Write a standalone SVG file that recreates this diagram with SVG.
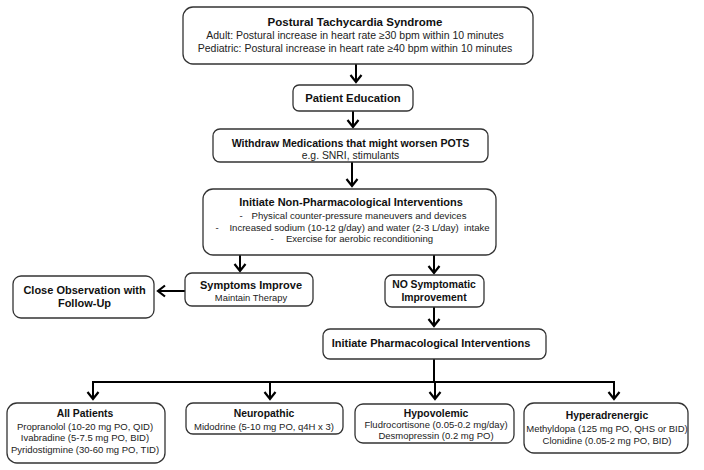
<svg xmlns="http://www.w3.org/2000/svg" width="704" height="470" viewBox="0 0 704 470">
<defs>
<marker id="ah" viewBox="-10 -8 12 16" markerWidth="12" markerHeight="16" refX="0" refY="0" orient="auto" markerUnits="userSpaceOnUse">
<path d="M-7,-5.5 L0,0 L-7,5.5" fill="none" stroke="#000" stroke-width="2.2" stroke-linejoin="miter"/>
</marker>
</defs>
<style>
.box{fill:#fff;stroke:#333;stroke-width:1.3}
.t{font-family:"Liberation Sans",Arial,sans-serif;font-size:11px;font-weight:bold;fill:#111;text-anchor:middle}
.n{font-family:"Liberation Sans",Arial,sans-serif;font-size:10px;fill:#222;text-anchor:middle}
.s{font-size:9.5px}
.bt{font-size:10.4px}
.c{fill:none;stroke:#000;stroke-width:2}
</style>
<rect width="704" height="470" fill="#fff"/>
<g id="connectors">
<line class="c" x1="356" y1="64" x2="356" y2="82" marker-end="url(#ah)"/>
<line class="c" x1="353" y1="111" x2="353" y2="127" marker-end="url(#ah)"/>
<line class="c" x1="352" y1="162" x2="352" y2="186" marker-end="url(#ah)"/>
<line class="c" x1="240" y1="255" x2="240" y2="271" marker-end="url(#ah)"/>
<line class="c" x1="434" y1="255" x2="434" y2="273" marker-end="url(#ah)"/>
<line class="c" x1="185" y1="291" x2="158" y2="291" marker-end="url(#ah)"/>
<line class="c" x1="434" y1="307" x2="434" y2="326" marker-end="url(#ah)"/>
<line class="c" x1="434" y1="359" x2="434" y2="382"/>
<line class="c" x1="93" y1="382" x2="614" y2="382"/>
<line class="c" x1="93" y1="381" x2="93" y2="399" marker-end="url(#ah)"/>
<line class="c" x1="270" y1="382" x2="270" y2="399" marker-end="url(#ah)"/>
<line class="c" x1="435" y1="382" x2="435" y2="399" marker-end="url(#ah)"/>
<line class="c" x1="614" y1="381" x2="614" y2="399" marker-end="url(#ah)"/>
</g>
<g id="pots">
<rect class="box" x="183" y="7" width="350" height="57" rx="10"/>
<text class="t" x="355" y="26" style="font-size:11.5px">Postural Tachycardia Syndrome</text>
<text class="n" x="355" y="39" style="font-size:10.5px">Adult: Postural increase in heart rate ≥30 bpm within 10 minutes</text>
<text class="n" x="355" y="52" style="font-size:10.5px">Pediatric: Postural increase in heart rate ≥40 bpm within 10 minutes</text>
</g>
<g id="education">
<rect class="box" x="293" y="85" width="120" height="26" rx="6"/>
<text class="t" x="353" y="102" style="font-size:11.3px">Patient Education</text>
</g>
<g id="withdraw">
<rect class="box" x="213" y="129" width="275" height="33" rx="7"/>
<text class="t" x="350.5" y="147" style="font-size:10.6px">Withdraw Medications that might worsen POTS</text>
<text class="n" x="350.5" y="158.5" style="font-size:10.4px">e.g. SNRI, stimulants</text>
</g>
<g id="nonpharm">
<rect class="box" x="203" y="189" width="293" height="66" rx="10"/>
<text class="t" x="351" y="206">Initiate Non-Pharmacological Interventions</text>
<text class="n" x="241" y="219" style="font-size:9.6px">-</text>
<text class="n" x="359" y="219" style="font-size:9.6px">Physical counter-pressure maneuvers and devices</text>
<text class="n" x="217" y="231" style="font-size:9.6px">-</text>
<text class="n" x="359.5" y="231" style="font-size:9.6px" xml:space="preserve">Increased sodium (10-12 g/day) and water (2-3 L/day)  intake</text>
<text class="n" x="272" y="242" style="font-size:9.6px">-</text>
<text class="n" x="359.5" y="242" style="font-size:9.6px">Exercise for aerobic reconditioning</text>
</g>
<g id="improve">
<rect class="box" x="185" y="273" width="128" height="33" rx="7"/>
<text class="t" x="251" y="289">Symptoms Improve</text>
<text class="n" x="251" y="301" style="font-size:9.4px">Maintain Therapy</text>
</g>
<g id="observation">
<rect class="box" x="13" y="276" width="141" height="42" rx="8"/>
<text class="t" x="84.5" y="294">Close Observation with</text>
<text class="t" x="84.5" y="307">Follow-Up</text>
</g>
<g id="noimprove">
<rect class="box" x="385" y="275" width="99" height="32" rx="7"/>
<text class="t" x="434" y="288" style="font-size:10.4px">NO Symptomatic</text>
<text class="t" x="434" y="301" style="font-size:10.4px">Improvement</text>
</g>
<g id="pharm">
<rect class="box" x="323" y="329" width="223" height="30" rx="7"/>
<text class="t" x="431" y="347">Initiate Pharmacological Interventions</text>
</g>
<g id="allpatients">
<rect class="box" x="7" y="403" width="158" height="60" rx="10"/>
<text class="t bt" x="85" y="417">All Patients</text>
<text class="n s" x="85" y="430">Propranolol (10-20 mg PO, QID)</text>
<text class="n s" x="85" y="441">Ivabradine (5-7.5 mg PO, BID)</text>
<text class="n s" x="85" y="453">Pyridostigmine (30-60 mg PO, TID)</text>
</g>
<g id="neuropathic">
<rect class="box" x="186" y="403" width="157" height="31" rx="7"/>
<text class="t bt" x="264" y="417">Neuropathic</text>
<text class="n s" x="264" y="430">Midodrine (5-10 mg PO, q4H x 3)</text>
</g>
<g id="hypovolemic">
<rect class="box" x="355" y="404" width="159" height="39" rx="8"/>
<text class="t bt" x="436" y="417">Hypovolemic</text>
<text class="n s" x="436" y="428">Fludrocortisone (0.05-0.2 mg/day)</text>
<text class="n s" x="436" y="439">Desmopressin (0.2 mg PO)</text>
</g>
<g id="hyperadrenergic">
<rect class="box" x="524" y="403" width="164" height="50" rx="10"/>
<text class="t bt" x="607" y="419">Hyperadrenergic</text>
<text class="n s" x="607" y="432">Methyldopa (125 mg PO, QHS or BID)</text>
<text class="n s" x="607" y="444">Clonidine (0.05-2 mg PO, BID)</text>
</g>
</svg>
